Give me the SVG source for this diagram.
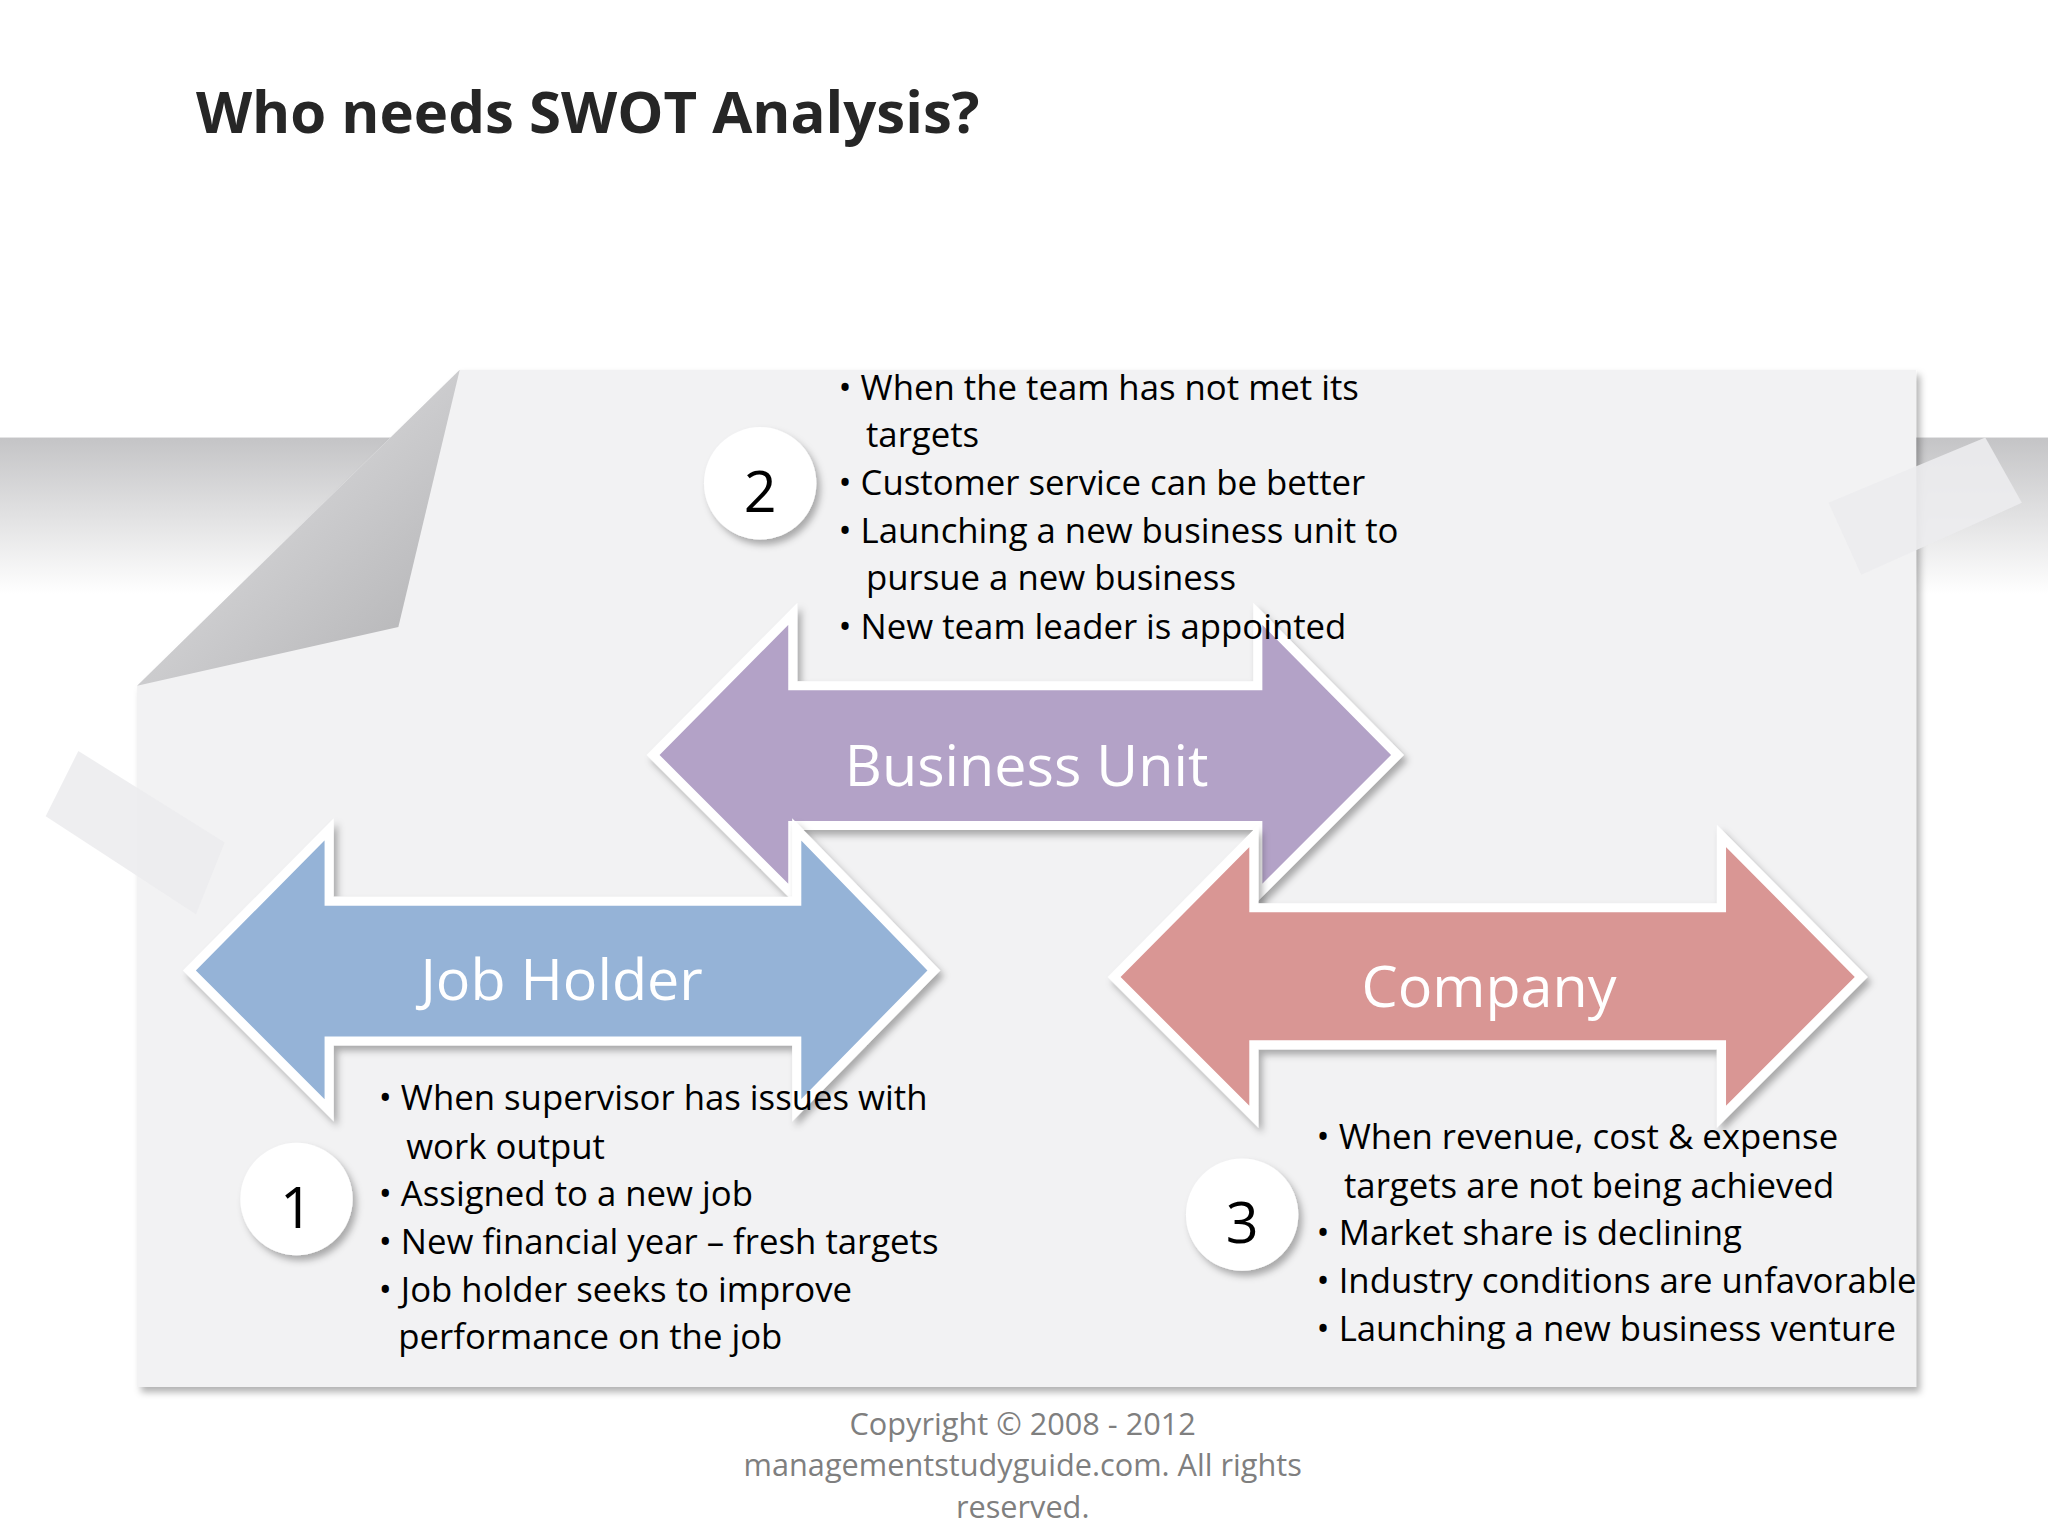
<svg xmlns="http://www.w3.org/2000/svg" width="2048" height="1536" viewBox="0 0 2048 1536">
<defs>
<linearGradient id="band" x1="0" y1="0" x2="0" y2="1"><stop offset="0" stop-color="#c4c4c6"/><stop offset="1" stop-color="#ffffff"/></linearGradient>
<linearGradient id="fold" x1="0" y1="0" x2="1" y2="1"><stop offset="0" stop-color="#e8e8ea"/><stop offset="1" stop-color="#b0b0b2"/></linearGradient>
<filter id="sh" x="-20%" y="-20%" width="150%" height="150%"><feDropShadow dx="3" dy="4" stdDeviation="3" flood-color="#000" flood-opacity="0.3"/></filter>
<style>
.t{font-family:"Open Sans","Liberation Sans",sans-serif;fill:#000;font-size:26.6px}
.lab{font-family:"Open Sans","Liberation Sans",sans-serif;fill:#fff;font-size:44px;text-anchor:middle}
.num{font-family:"Open Sans","Liberation Sans",sans-serif;fill:#000;font-size:44px;text-anchor:middle}
.arr{stroke:#fff;stroke-width:7;stroke-linejoin:miter;filter:url(#sh)}
.circ{fill:#fff;filter:url(#sh)}
.cp{font-family:"Open Sans","Liberation Sans",sans-serif;fill:#7f7f7f;font-size:23.5px;text-anchor:middle}
</style>
</defs>
<rect width="2048" height="1536" fill="#fff"/>
<g transform="scale(1.30612)">
<rect x="0" y="335" width="1568" height="120" fill="url(#band)"/>
<g id="paper">
<polygon points="352,283 1467,283 1467,1062 105,1062 105,525" fill="#f2f2f3" filter="url(#sh)"/>
<polygon points="352,283 305,480 105,525" fill="url(#fold)"/>
<polygon points="60,575 172,645 150,700 35,625" fill="#ececee" opacity="0.9"/>
<polygon points="1400,385 1520,335 1548,385 1425,440" fill="#ececee" opacity="0.9"/>
</g>
<text x="150" y="102" font-family="Open Sans, Liberation Sans, sans-serif" font-weight="bold" font-size="44.5" fill="#262626">Who needs SWOT Analysis?</text>
<g id="business-unit">
<polygon class="arr" fill="#b3a2c7" points="500,578 607,470 607,525 963,525 963,470 1070,578 963,685 963,632 607,632 607,685"/>
<text class="lab" x="786" y="602">Business Unit</text>
</g>
<g id="job-holder">
<polygon class="arr" fill="#95b3d7" points="145,743 252,635 252,690 610,690 610,635 715,743 610,850 610,797 252,797 252,850"/>
<text class="lab" x="430" y="766">Job Holder</text>
</g>
<g id="company">
<polygon class="arr" fill="#d99694" points="853,748 960,640 960,695 1318,695 1318,640 1425,748 1318,855 1318,800 960,800 960,855"/>
<text class="lab" x="1140" y="771">Company</text>
</g>
<g id="n1"><circle class="circ" cx="227" cy="918" r="43"/><text class="num" x="227" y="940">1</text></g>
<g id="n2"><circle class="circ" cx="582" cy="370" r="43"/><text class="num" x="582" y="392">2</text></g>
<g id="n3"><circle class="circ" cx="951" cy="930" r="43"/><text class="num" x="951" y="952">3</text></g>
<g id="text2">
<text class="t" x="642" y="306">• When the team has not met its</text>
<text class="t" x="663" y="342">targets</text>
<text class="t" x="642" y="379">• Customer service can be better</text>
<text class="t" x="642" y="416">• Launching a new business unit to</text>
<text class="t" x="663" y="452">pursue a  new business</text>
<text class="t" x="642" y="489">• New team leader is appointed</text>
</g>
<g id="text1">
<text class="t" x="290" y="850">• When supervisor has issues with</text>
<text class="t" x="311" y="887">work output</text>
<text class="t" x="290" y="923">• Assigned to a new job</text>
<text class="t" x="290" y="960">• New financial year – fresh targets</text>
<text class="t" x="290" y="997">• Job holder seeks to improve</text>
<text class="t" x="305" y="1033">performance on the job</text>
</g>
<g id="text3">
<text class="t" x="1008" y="880">• When revenue, cost &amp; expense</text>
<text class="t" x="1029" y="917">targets are not being  achieved</text>
<text class="t" x="1008" y="953">• Market share is declining</text>
<text class="t" x="1008" y="990">• Industry conditions are unfavorable</text>
<text class="t" x="1008" y="1027">• Launching a new business venture</text>
</g>
<g id="copyright">
<text class="cp" x="783" y="1099">Copyright © 2008 - 2012</text>
<text class="cp" x="783" y="1130">managementstudyguide.com. All rights</text>
<text class="cp" x="783" y="1162">reserved.</text>
</g>
</g>
</svg>
